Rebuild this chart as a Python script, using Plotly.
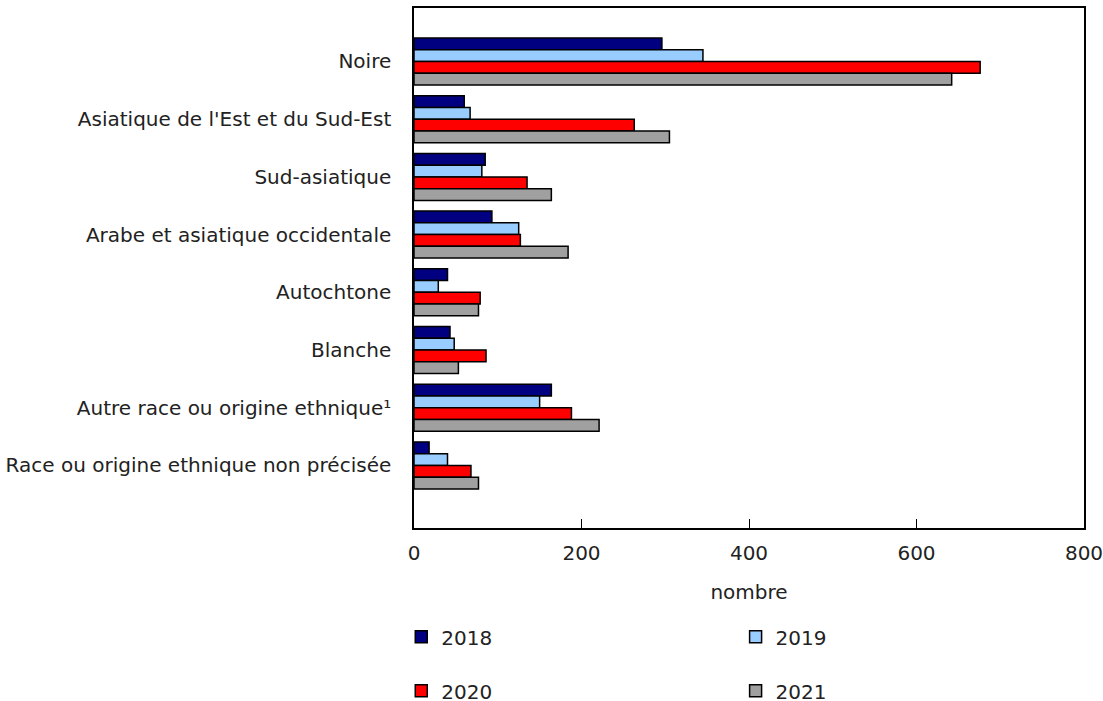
import plotly.graph_objects as go

categories = [
    "Noire",
    "Asiatique de l'Est et du Sud-Est",
    "Sud-asiatique",
    "Arabe et asiatique occidentale",
    "Autochtone",
    "Blanche",
    "Autre race ou origine ethnique¹",
    "Race ou origine ethnique non précisée",
]
years = ["2018", "2019", "2020", "2021"]
values_2018 = [296, 60, 85, 93, 40, 43, 164, 18]
values_2019 = [345, 67, 81, 125, 29, 48, 150, 40]
values_2020 = [676, 263, 135, 127, 79, 86, 188, 68]
values_2021 = [642, 305, 164, 184, 77, 53, 221, 77]
x_ticks = [0, 200, 400, 600, 800]

colors = ["#000080", "#99ccff", "#ff0000", "#a0a0a0"]
series = [values_2018, values_2019, values_2020, values_2021]
# 2018 & 2020 in left legend column, 2019 & 2021 in the right one
legend_ids = ["legend", "legend2", "legend", "legend2"]

pos = list(range(len(categories)))

fig = go.Figure()
for year, vals, col, leg in zip(years, series, colors, legend_ids):
    fig.add_trace(go.Bar(
        x=vals, y=pos, name=year, orientation="h",
        marker=dict(color=col, line=dict(color="black", width=1.5)),
        legend=leg, legendgroup=year,
    ))

font = dict(family="DejaVu Sans, Verdana, sans-serif", size=20, color="#222")
legend_style = dict(
    orientation="v", yanchor="top", xanchor="left", yref="container",
    font=font, tracegroupgap=25, bgcolor="rgba(0,0,0,0)",
    itemwidth=30,
)

fig.update_layout(
    width=1103, height=701,
    margin=dict(l=414, r=19, t=8, b=173),
    plot_bgcolor="white", paper_bgcolor="white",
    font=font,
    barmode="group", bargap=0.185, bargroupgap=0,
    showlegend=True,
    legend=dict(x=-0.019, y=0.1194, **legend_style),
    legend2=dict(x=0.48, y=0.1194, **legend_style),
    xaxis=dict(
        range=[0, 800], tickvals=x_ticks, ticks="inside", ticklen=9,
        tickcolor="black", showgrid=False, zeroline=False,
        showline=True, linecolor="black", linewidth=1.5, mirror=True,
        tickfont=font, ticklabelstandoff=6, ticklabeloverflow="allow",
        automargin=False,
        title=dict(text="nombre", standoff=21, font=font),
    ),
    yaxis=dict(
        range=[8.085, -0.927], tickvals=pos, ticktext=categories,
        ticks="", showgrid=False, zeroline=False,
        showline=True, linecolor="black", linewidth=1.5, mirror=True,
        tickfont=font, ticklabelstandoff=17, automargin=False,
    ),
)

# drop the default body margin so the figure fills the window exactly
fig.write_html(
    "out.html",
    config={"displayModeBar": False},
    post_script="document.body.style.margin = '0';",
)
